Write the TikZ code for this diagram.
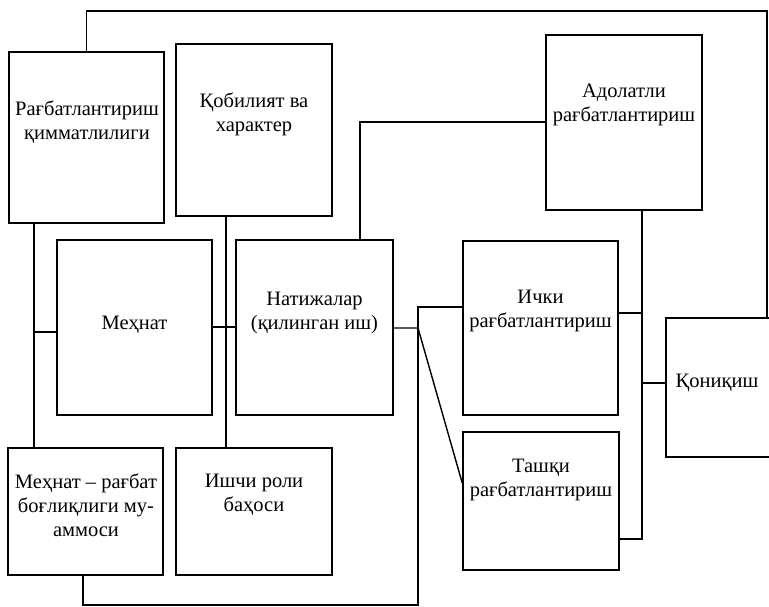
\documentclass[tikz,border=0pt]{standalone}
\usepackage{fontspec}
\setmainfont{Liberation Serif}
\usepackage{tikz}
\usetikzlibrary{positioning,calc}
\tikzset{
  box/.style  = {rectangle, draw=black, line width=1.5pt, inner sep=0pt},
  txt/.style  = {align=center, inner sep=0pt, font=\fontsize{20.5}{24}\selectfont},
  ln/.style   = {line width=1.4pt},
}

\begin{document}
\begin{tikzpicture}[x=1pt, y=-1pt]
    \useasboundingbox (0,0) rectangle (769,607);
    % boxes
    \node[box, minimum width=155pt, minimum height=171pt] (rag)   at (86.5,137.5) {};
    \node[box, minimum width=156pt, minimum height=172pt] (qob)   at (254,130)    {};
    \node[box, minimum width=156pt, minimum height=175pt] (adol)  at (624,122.5)  {};
    \node[box, minimum width=155pt, minimum height=175pt] (meh)   at (134.5,327.5) {};
    \node[box, minimum width=157pt, minimum height=175pt] (nat)   at (314.5,327.5) {};
    \node[box, minimum width=155pt, minimum height=174pt] (ichki) at (540.5,328)  {};
    \node[box, minimum width=124pt, minimum height=139pt] (qon)   at (728,387.5)  {};
    \node[box, minimum width=155pt, minimum height=127pt] (mrb)   at (85.5,511.5) {};
    \node[box, minimum width=156pt, minimum height=127pt] (ish)   at (254,511.5)  {};
    \node[box, minimum width=156pt, minimum height=138pt] (tash)  at (541,501)    {};
    % texts
    \node[txt] (ragt)   at (87,122.5)  {Рағбатлантириш\\қимматлилиги};
    \node[txt] (qobt)   at (254,114)   {Қобилият ва\\характер};
    \node[txt] (adolt)  at (624,105)   {Адолатли\\рағбатлантириш};
    \node[txt] (meht)   at (134.5,325) {Меҳнат};
    \node[txt] (natt)   at (314.5,312.5) {Натижалар\\(қилинган иш)};
    \node[txt] (ichkit) at (540.5,310.5) {Ички\\рағбатлантириш};
    \node[txt] (qont)   at (717,383)   {Қониқиш};
    \node[txt] (mrbt)   at (86,505)    {Меҳнат – рағбат\\боғлиқлиги му-\\аммоси};
    \node[txt] (isht)   at (254,494.5) {Ишчи роли\\баҳоси};
    \node[txt] (tasht)  at (541,479.5) {Ташқи\\рағбатлантириш};
    % junctions
    \coordinate (jl)   at (34,332);
    \coordinate (jm)   at (226,327);
    \coordinate (ja)   at (360,122);
    \coordinate (jr)   at (418,328);
    \coordinate (ji)   at (418,307);
    \coordinate (jb)   at (418,605);
    \coordinate (jc)   at (642,313);
    \coordinate (jq)   at (642,383);
    \coordinate (jq2)  at (642,539);
    \coordinate (jtop) at (767,11);
    % connectors
    \draw[ln] (rag.south -| jl) -- (mrb.north -| jl);
    \draw[ln] (jl) -- (meh.west |- jl);
    \draw[ln] (qob.south -| jm) -- (ish.north -| jm);
    \draw[ln] (meh.east |- jm) -- (nat.west |- jm);
    \draw[ln] (nat.north -| ja) |- (adol.west |- ja);
    \draw[ln] (nat.east |- jr) -- (jr) -- ([yshift=18pt]tash.west);
    \draw[ln] ([xshift=-2.5pt]mrb.south) |- (jb) |- (ichki.west |- ji);
    \draw[ln] (adol.south -| jq) |- (tash.east |- jq2);
    \draw[ln] (ichki.east |- jc) -- (jc);
    \draw[ln] (jq) -- (qon.west |- jq);
    \draw[ln] (rag.north) |- (jtop) -- (jtop |- qon.north);
\end{tikzpicture}
\end{document}
